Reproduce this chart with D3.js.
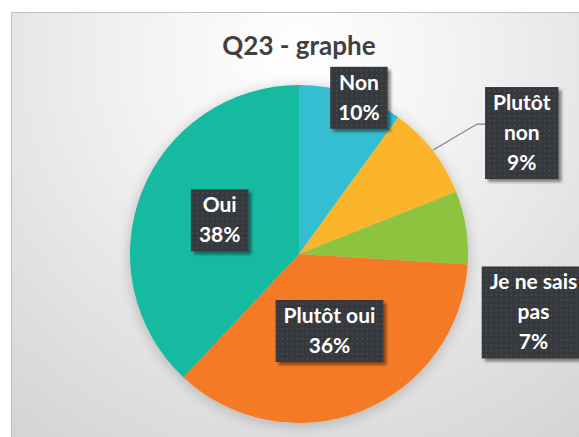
<!DOCTYPE html>
<html>
<head>
<meta charset="utf-8">
<script src="https://cdn.jsdelivr.net/npm/d3@7"></script>
<style>
  html, body { margin: 0; padding: 0; background: #fff; }
  svg { display: block; }
  .lbl text { font-family: Lato, "Open Sans", sans-serif; font-weight: 700; fill: #fff; }
</style>
</head>
<body>
<div id="chart"></div>
<script>
const width = 579;
const height = 437;

const categories = ['Non', 'Plutôt non', 'Je ne sais pas', 'Plutôt oui', 'Oui'];
const values = [10, 9, 7, 36, 38];
const percentLabels = ['10%', '9%', '7%', '36%', '38%'];
const labelLines = [['Non'], ['Plutôt', 'non'], ['Je ne sais', 'pas'], ['Plutôt oui'], ['Oui']];
const colors = ['#36bdd1', '#fbb52b', '#8cc43f', '#f57a27', '#12baa0'];

// where excel put each data label: fraction of radius + angle shift (deg)
const labelPlacement = {
  'Non': { k: 0.99, shift: 3 },
  'Plutôt non': { k: 1.5, shift: 9.3, leader: true },
  'Je ne sais pas': { k: 1.43, shift: 23 },
  'Plutôt oui': { k: 0.49, shift: 0 },
  'Oui': { k: 0.51, shift: 1.4 }
};

const margin = { left: 11, top: 12 };
const center = { x: 299, y: 254 };
const radius = 169;
const lineH = 30;

const svg = d3.select('#chart').append('svg')
  .attr('width', width)
  .attr('height', height);

const defs = svg.append('defs');

const bg = defs.append('radialGradient')
  .attr('id', 'bg')
  .attr('gradientUnits', 'userSpaceOnUse')
  .attr('cx', 299).attr('cy', 60).attr('r', 520);
bg.append('stop').attr('offset', '0%').attr('stop-color', '#ffffff');
bg.append('stop').attr('offset', '30%').attr('stop-color', '#f3f3f3');
bg.append('stop').attr('offset', '100%').attr('stop-color', '#cfcfcf');

const dots = defs.append('pattern')
  .attr('id', 'dots')
  .attr('patternUnits', 'userSpaceOnUse')
  .attr('width', 5).attr('height', 5);
dots.append('rect').attr('width', 5).attr('height', 5).attr('fill', '#36393c');
dots.append('rect').attr('x', 2).attr('y', 2).attr('width', 1.5).attr('height', 1.5).attr('fill', '#4c4f52');

const pieShadow = defs.append('filter').attr('id', 'pieShadow')
  .attr('x', '-20%').attr('y', '-20%').attr('width', '140%').attr('height', '140%');
pieShadow.append('feGaussianBlur').attr('in', 'SourceAlpha').attr('stdDeviation', 7).attr('result', 'b');
pieShadow.append('feOffset').attr('in', 'b').attr('dx', 0).attr('dy', 2).attr('result', 'o');
pieShadow.append('feComponentTransfer').attr('in', 'o').attr('result', 's')
  .append('feFuncA').attr('type', 'linear').attr('slope', 0.22);
let m = pieShadow.append('feMerge');
m.append('feMergeNode').attr('in', 's');
m.append('feMergeNode').attr('in', 'SourceGraphic');

const boxShadow = defs.append('filter').attr('id', 'boxShadow')
  .attr('x', '-20%').attr('y', '-20%').attr('width', '140%').attr('height', '140%');
boxShadow.append('feGaussianBlur').attr('in', 'SourceAlpha').attr('stdDeviation', 1.5).attr('result', 'b');
boxShadow.append('feOffset').attr('in', 'b').attr('dx', 3).attr('dy', 3).attr('result', 'o');
boxShadow.append('feComponentTransfer').attr('in', 'o').attr('result', 's')
  .append('feFuncA').attr('type', 'linear').attr('slope', 0.45);
m = boxShadow.append('feMerge');
m.append('feMergeNode').attr('in', 's');
m.append('feMergeNode').attr('in', 'SourceGraphic');

// chart area
svg.append('rect')
  .attr('x', margin.left + 0.5)
  .attr('y', margin.top + 0.5)
  .attr('width', width)
  .attr('height', height)
  .attr('fill', 'url(#bg)')
  .attr('stroke', '#bfbfbf');

svg.append('text')
  .attr('x', center.x)
  .attr('y', 55)
  .attr('text-anchor', 'middle')
  .style('font-family', 'Lato, "Open Sans", sans-serif')
  .style('font-weight', 700)
  .style('font-size', '26px')
  .style('fill', '#404040')
  .text('Q23 - graphe');

const data = categories.map(function(c, i) {
  return { name: c, value: values[i], pct: percentLabels[i], lines: labelLines[i].concat([percentLabels[i]]), color: colors[i] };
});

const pie = d3.pie().sort(null).value(function(d) { return d.value; });
const arc = d3.arc().innerRadius(0).outerRadius(radius);
const arcs = pie(data);

const g = svg.append('g')
  .attr('transform', 'translate(' + center.x + ',' + center.y + ')');

g.append('g')
  .attr('filter', 'url(#pieShadow)')
  .selectAll('path')
  .data(arcs)
  .enter()
  .append('path')
    .attr('d', arc)
    .attr('fill', function(d) { return d.data.color; });

function labelPos(d) {
  const p = labelPlacement[d.data.name];
  const a = (d.startAngle + d.endAngle) / 2 + p.shift * Math.PI / 180;
  const r = radius * p.k;
  return [r * Math.sin(a), -r * Math.cos(a)];
}

const labels = g.selectAll('.lbl')
  .data(arcs)
  .enter()
  .append('g')
    .attr('class', 'lbl')
    .attr('transform', function(d) {
      const p = labelPos(d);
      return 'translate(' + p[0] + ',' + p[1] + ')';
    });

labels.each(function(d) {
  const el = d3.select(this);
  const n = d.data.lines.length;
  const box = el.append('rect')
    .attr('fill', 'url(#dots)')
    .attr('filter', 'url(#boxShadow)');
  let maxW = 0;
  d.data.lines.forEach(function(line, i) {
    const t = el.append('text')
      .attr('text-anchor', 'middle')
      .attr('x', 0)
      .attr('y', (i - (n - 1) / 2) * lineH + 7)
      .style('font-size', '21px')
      .text(line);
    maxW = Math.max(maxW, t.node().getComputedTextLength());
  });
  const w = maxW + 16;
  const h = n * lineH + 2;
  box.attr('x', -w / 2).attr('y', -h / 2).attr('width', w).attr('height', h);
  d.box = { w: w, h: h };
});

// leader line for labels pushed outside
arcs.forEach(function(d) {
  if (!labelPlacement[d.data.name].leader) return;
  const mid = (d.startAngle + d.endAngle) / 2;
  const p = labelPos(d);
  const start = [radius * 1.005 * Math.sin(mid), -radius * 1.005 * Math.cos(mid)];
  const boxLeft = p[0] - d.box.w / 2;
  const y = p[1] - d.box.h / 2 + 37;
  g.insert('path', '.lbl')
    .attr('d', d3.line()([start, [boxLeft - 8, y], [boxLeft, y]]))
    .attr('fill', 'none')
    .attr('stroke', '#7f7f7f')
    .attr('stroke-width', 1.2);
});
</script>
</body>
</html>
